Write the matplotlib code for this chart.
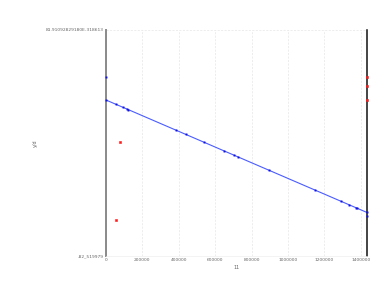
import matplotlib
matplotlib.use("Agg")
import matplotlib.pyplot as plt

# blue observations (x, y)
blue_x = [0, 0, 54900, 91700, 113600, 120800, 384300, 437500, 538000, 649500,
          704400, 723000, 894900, 1147500, 1290200, 1334200, 1370900, 1378000,
          1431300, 1431300]
blue_y = [47.93, 30.97, 27.84, 25.66, 24.43, 23.92, 8.93, 6.24, 0.42, -6.13,
          -9.04, -10.28, -20.17, -34.5, -42.29, -45.2, -47.38, -47.82,
          -50.73, -53.42]

# red observations
red_x = [76900, 54900, 1434000, 1434000, 1434000]
red_y = [0.42, -56.55, 47.93, 41.38, 31.19]

# fitted line end points
line_x = [0, 1434000]
line_y = [30.97, -50.88]

x_ticks = [0, 200000, 400000, 600000, 800000, 1000000, 1200000, 1400000]
x_labels = ["0", "200000", "400000", "600000", "800000", "1000000", "1200000", "1400000"]
y_lim = (-82.52, 81.9)
y_labels = ["-82_519979", "81.91092829180E-318613"]

fig = plt.figure(figsize=(3.84, 2.97), dpi=100)
ax = fig.add_axes([0.276, 0.138, 0.68, 0.761])

ax.plot(line_x, line_y, color="#4a5cff", lw=0.8, zorder=2)
ax.plot(blue_x, blue_y, "s", color="#1010e0", ms=1.4, mew=0, clip_on=False, zorder=5)
ax.plot(red_x, red_y, "s", color="#ff1a1a", ms=2.0, mew=0.4, clip_on=False, zorder=6)

ax.set_xlim(0, 1434000)
ax.set_ylim(*y_lim)
ax.set_xticks(x_ticks)
ax.set_xticklabels(x_labels)
ax.set_yticks(list(y_lim))
ax.set_yticklabels(y_labels)
ax.tick_params(length=0, labelsize=3.2, colors="#666666", pad=1.5)

ax.grid(True, ls=(0, (3, 2)), color="#e6e6e6", lw=0.5)
ax.set_axisbelow(True)

ax.spines["left"].set_color("#8a8a8a")
ax.spines["left"].set_linewidth(1.4)
ax.spines["right"].set_color("#111111")
ax.spines["right"].set_linewidth(1.1)
ax.spines["top"].set_visible(False)
ax.spines["bottom"].set_color("#eeeeee")
ax.spines["bottom"].set_linewidth(0.5)

ax.set_xlabel("11", fontsize=3.5, color="#666666", labelpad=2)
ax.set_ylabel("y/d", fontsize=3.5, color="#666666", labelpad=6)

fig.savefig("out.png", dpi=100)
